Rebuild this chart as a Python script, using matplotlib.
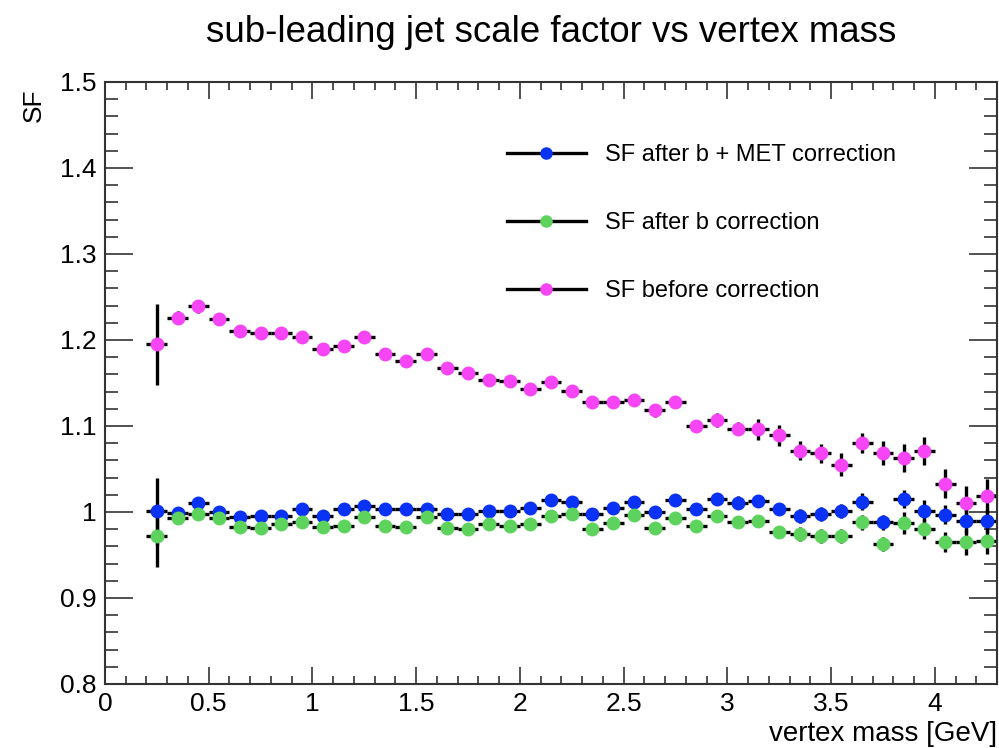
import matplotlib
matplotlib.use("Agg")
import matplotlib.pyplot as plt
from matplotlib.lines import Line2D
from matplotlib.ticker import MultipleLocator

plt.rcParams['font.family'] = ['Liberation Sans', 'DejaVu Sans']

# bin centres of the vertex mass histogram [GeV]
mass = [0.25, 0.35, 0.45, 0.55, 0.65, 0.75, 0.85, 0.95, 1.05, 1.15, 1.25, 1.35,
        1.45, 1.55, 1.65, 1.75, 1.85, 1.95, 2.05, 2.15, 2.25, 2.35, 2.45, 2.55,
        2.65, 2.75, 2.85, 2.95, 3.05, 3.15, 3.25, 3.35, 3.45, 3.55, 3.65, 3.75,
        3.85, 3.95, 4.05, 4.15, 4.25]
bin_half = 0.05

sf_b_met = [1.001, 0.999, 1.011, 1.000, 0.994, 0.995, 0.995, 1.003, 0.995, 1.003, 1.007, 1.003,
            1.004, 1.004, 0.998, 0.998, 1.001, 1.001, 1.005, 1.014, 1.012, 0.998, 1.005, 1.012,
            1.000, 1.014, 1.003, 1.015, 1.011, 1.013, 1.003, 0.995, 0.998, 1.001, 1.012, 0.988,
            1.015, 1.001, 0.997, 0.990, 0.990]
err_b_met = [0.039, 0.004, 0.004, 0.004, 0.004, 0.004, 0.004, 0.004, 0.004, 0.004, 0.005, 0.005,
             0.005, 0.005, 0.005, 0.005, 0.005, 0.005, 0.005, 0.005, 0.006, 0.006, 0.006, 0.006,
             0.006, 0.006, 0.006, 0.007, 0.007, 0.007, 0.007, 0.008, 0.008, 0.008, 0.010, 0.009,
             0.010, 0.013, 0.011, 0.014, 0.014]

sf_b = [0.972, 0.993, 0.998, 0.993, 0.983, 0.981, 0.986, 0.988, 0.983, 0.984, 0.994, 0.984,
        0.982, 0.994, 0.981, 0.980, 0.986, 0.984, 0.986, 0.995, 0.998, 0.980, 0.987, 0.996,
        0.981, 0.993, 0.984, 0.995, 0.988, 0.990, 0.977, 0.974, 0.972, 0.972, 0.988, 0.963,
        0.987, 0.980, 0.965, 0.965, 0.966]
err_b = [0.036, 0.004, 0.004, 0.004, 0.004, 0.004, 0.004, 0.004, 0.004, 0.004, 0.005, 0.005,
         0.005, 0.005, 0.005, 0.005, 0.005, 0.005, 0.005, 0.005, 0.006, 0.006, 0.006, 0.006,
         0.006, 0.006, 0.006, 0.007, 0.007, 0.007, 0.007, 0.008, 0.008, 0.008, 0.009, 0.008,
         0.013, 0.012, 0.012, 0.015, 0.015]

sf_raw = [1.195, 1.226, 1.239, 1.224, 1.210, 1.208, 1.208, 1.204, 1.190, 1.193, 1.204, 1.184,
          1.175, 1.184, 1.167, 1.162, 1.154, 1.152, 1.143, 1.151, 1.141, 1.128, 1.128, 1.130,
          1.118, 1.128, 1.100, 1.107, 1.097, 1.096, 1.089, 1.071, 1.068, 1.055, 1.080, 1.069,
          1.063, 1.071, 1.033, 1.011, 1.018]
err_raw = [0.047, 0.008, 0.008, 0.006, 0.005, 0.005, 0.005, 0.005, 0.005, 0.005, 0.006, 0.006,
           0.006, 0.006, 0.006, 0.006, 0.006, 0.006, 0.006, 0.006, 0.006, 0.006, 0.007, 0.007,
           0.007, 0.007, 0.007, 0.008, 0.008, 0.012, 0.012, 0.011, 0.011, 0.013, 0.012, 0.014,
           0.016, 0.016, 0.017, 0.019, 0.020]

series = [
    ("SF after b + MET correction", sf_b_met, err_b_met, "#0a32f5"),
    ("SF after b correction", sf_b, err_b, "#5dd35d"),
    ("SF before correction", sf_raw, err_raw, "#f545f5"),
]

yticks = [0.8, 0.9, 1.0, 1.1, 1.2, 1.3, 1.4, 1.5]
ytick_labels = ["0.8", "0.9", "1", "1.1", "1.2", "1.3", "1.4", "1.5"]
xticks = [0, 0.5, 1, 1.5, 2, 2.5, 3, 3.5, 4]
xtick_labels = ["0", "0.5", "1", "1.5", "2", "2.5", "3", "3.5", "4"]

fig = plt.figure(figsize=(9.99, 7.48), dpi=100)
ax = fig.add_axes([0.1051, 0.0856, 0.8929, 0.8048])

for label, vals, errs, col in series:
    ax.errorbar(mass, vals, yerr=errs, xerr=bin_half, fmt='o', ms=9,
                mfc=col, mec=col, ecolor='black', elinewidth=2.4, capsize=0)

ax.set_xlim(0, 4.3)
ax.set_ylim(0.8, 1.5)
ax.set_xticks(xticks)
ax.set_xticklabels(xtick_labels, fontsize=19)
ax.set_yticks(yticks)
ax.set_yticklabels(ytick_labels, fontsize=19)
ax.xaxis.set_minor_locator(MultipleLocator(0.1))
ax.yaxis.set_minor_locator(MultipleLocator(0.02))
ax.tick_params(axis='both', which='both', direction='in', top=True, right=True,
               color='#333333', width=1.2)
ax.tick_params(axis='x', which='major', length=12, pad=6)
ax.tick_params(axis='x', which='minor', length=6)
ax.tick_params(axis='y', which='major', length=20, pad=6)
ax.tick_params(axis='y', which='minor', length=9.5)
for sp in ax.spines.values():
    sp.set_color('#333333')
    sp.set_linewidth(1.5)

ax.set_xlabel("vertex mass [GeV]", fontsize=20, loc='right')
ax.xaxis.set_label_coords(1.0, -0.062)
ax.set_ylabel("SF", fontsize=19, loc='top')
ax.yaxis.set_label_coords(-0.066, 0.99)

fig.text(0.5516, 1 - 33 / 748, "sub-leading jet scale factor vs vertex mass",
         fontsize=26.4, ha='center', va='center')

handles = [(Line2D([], [], color='black', lw=2.4),
            Line2D([], [], marker='o', ls='none', ms=8, mfc=col, mec=col))
           for _, _, _, col in series]
labels = [s[0] for s in series]
ax.legend(handles, labels, loc='upper left', bbox_to_anchor=(0.44, 0.913),
          frameon=False, fontsize=17, handlelength=3.35, labelspacing=1.95,
          handletextpad=0.8, borderaxespad=0)

fig.savefig("out.png", dpi=100)
